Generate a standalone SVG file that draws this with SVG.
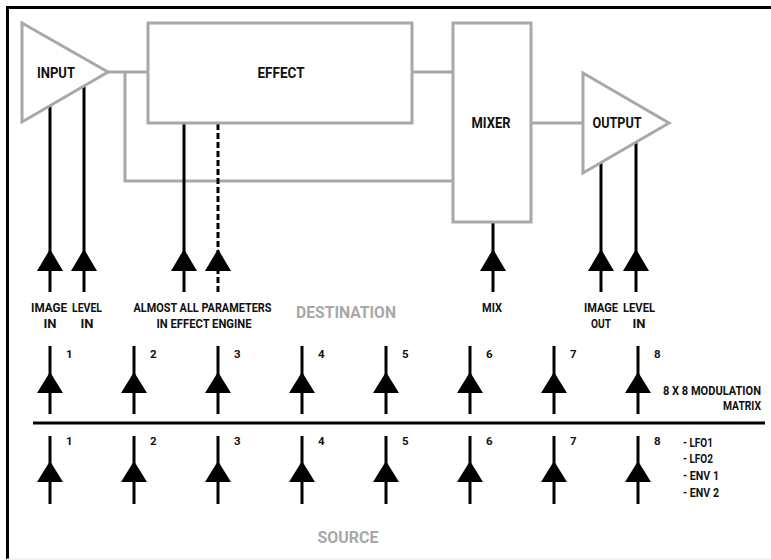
<svg xmlns="http://www.w3.org/2000/svg" xmlns:xlink="http://www.w3.org/1999/xlink" width="771" height="560" viewBox="0 0 771 560">
<style>
.blk{fill:none;stroke:#a8a8a8;stroke-width:3}
.ln{stroke:#000;stroke-width:3;fill:none}
.dash{stroke:#000;stroke-width:3;fill:none;stroke-dasharray:6 3}
text{font-family:Roboto,"DejaVu Sans",sans-serif;font-weight:bold}
.t{fill:#111;font-size:12.5px;text-anchor:middle}
.n{fill:#111;font-size:11.5px}
.big{fill:#a8a8a8;font-size:17px;text-anchor:middle}
.nm{fill:#111;font-size:14.5px;text-anchor:middle}
</style>
<defs>
<polygon id="ah" points="0,0 13,22 -13,22" fill="#000"/>
<polygon id="ah2" points="0,0 13,21 -13,21" fill="#000"/>
</defs>
<rect width="771" height="560" fill="#fff"/>
<g id="frame">
<line x1="7" y1="7.5" x2="771" y2="7.5" stroke="#000" stroke-width="3"/>
<line x1="7.5" y1="6" x2="7.5" y2="559" stroke="#000" stroke-width="3"/>
<line x1="7" y1="559" x2="771" y2="559" stroke="#e6e6e6" stroke-width="1"/>
</g>
<g id="connectors">
<path class="blk" d="M108,72 H148"/>
<path class="blk" d="M125,72 V181 H453"/>
<path class="blk" d="M412,72 H453"/>
<path class="blk" d="M531,123 H583"/>
<line class="ln" x1="50" y1="106" x2="50" y2="292"/>
<line class="ln" x1="84" y1="86" x2="84" y2="292"/>
<line class="ln" x1="184" y1="123" x2="184" y2="292"/>
<line class="dash" x1="218" y1="124" x2="218" y2="292"/>
<line class="ln" x1="493" y1="223" x2="493" y2="292"/>
<line class="ln" x1="601" y1="162" x2="601" y2="292"/>
<line class="ln" x1="636" y1="142" x2="636" y2="292"/>
<use xlink:href="#ah" x="50" y="249"/>
<use xlink:href="#ah" x="84" y="249"/>
<use xlink:href="#ah" x="184" y="249"/>
<use xlink:href="#ah" x="218" y="249"/>
<use xlink:href="#ah" x="493" y="249"/>
<use xlink:href="#ah" x="601" y="249"/>
<use xlink:href="#ah" x="636" y="249"/>
<line x1="33" y1="423" x2="765" y2="423" stroke="#000" stroke-width="3"/>
<g id="matrix-top">
<line class="ln" x1="50" y1="346" x2="50" y2="414"/>
<line class="ln" x1="134" y1="346" x2="134" y2="414"/>
<line class="ln" x1="218" y1="346" x2="218" y2="414"/>
<line class="ln" x1="302" y1="346" x2="302" y2="414"/>
<line class="ln" x1="386" y1="346" x2="386" y2="414"/>
<line class="ln" x1="470" y1="346" x2="470" y2="414"/>
<line class="ln" x1="554" y1="346" x2="554" y2="414"/>
<line class="ln" x1="638" y1="346" x2="638" y2="414"/>
<use xlink:href="#ah2" x="50" y="372"/>
<use xlink:href="#ah2" x="134" y="372"/>
<use xlink:href="#ah2" x="218" y="372"/>
<use xlink:href="#ah2" x="302" y="372"/>
<use xlink:href="#ah2" x="386" y="372"/>
<use xlink:href="#ah2" x="470" y="372"/>
<use xlink:href="#ah2" x="554" y="372"/>
<use xlink:href="#ah2" x="638" y="372"/>
</g>
<g id="matrix-bottom">
<line class="ln" x1="50" y1="436" x2="50" y2="504"/>
<line class="ln" x1="134" y1="436" x2="134" y2="504"/>
<line class="ln" x1="218" y1="436" x2="218" y2="504"/>
<line class="ln" x1="302" y1="436" x2="302" y2="504"/>
<line class="ln" x1="386" y1="436" x2="386" y2="504"/>
<line class="ln" x1="470" y1="436" x2="470" y2="504"/>
<line class="ln" x1="554" y1="436" x2="554" y2="504"/>
<line class="ln" x1="638" y1="436" x2="638" y2="504"/>
<use xlink:href="#ah2" x="50" y="461"/>
<use xlink:href="#ah2" x="134" y="461"/>
<use xlink:href="#ah2" x="218" y="461"/>
<use xlink:href="#ah2" x="302" y="461"/>
<use xlink:href="#ah2" x="386" y="461"/>
<use xlink:href="#ah2" x="470" y="461"/>
<use xlink:href="#ah2" x="554" y="461"/>
<use xlink:href="#ah2" x="638" y="461"/>
</g>
</g>
<g id="input">
<polygon class="blk" points="22,23 108,72 22,122"/>
<text class="nm" x="56" y="78" textLength="38" lengthAdjust="spacingAndGlyphs">INPUT</text>
</g>
<g id="effect">
<rect class="blk" x="148" y="23" width="264" height="100"/>
<text class="nm" x="281" y="78" textLength="47" lengthAdjust="spacingAndGlyphs">EFFECT</text>
</g>
<g id="mixer">
<rect class="blk" x="453" y="23" width="78" height="199"/>
<text class="nm" x="491" y="128" textLength="39" lengthAdjust="spacingAndGlyphs">MIXER</text>
</g>
<g id="output">
<polygon class="blk" points="583,73 669,123 583,173"/>
<text class="nm" x="617" y="128" textLength="49" lengthAdjust="spacingAndGlyphs">OUTPUT</text>
</g>
<g id="labels">
<text class="t" x="49" y="312" textLength="36" lengthAdjust="spacingAndGlyphs">IMAGE</text>
<text class="t" x="50" y="328" textLength="13" lengthAdjust="spacingAndGlyphs">IN</text>
<text class="t" x="87" y="312" textLength="30" lengthAdjust="spacingAndGlyphs">LEVEL</text>
<text class="t" x="87" y="328" textLength="13" lengthAdjust="spacingAndGlyphs">IN</text>
<text class="t" x="202.5" y="312" textLength="138" lengthAdjust="spacingAndGlyphs">ALMOST ALL PARAMETERS</text>
<text class="t" x="204" y="328" textLength="95" lengthAdjust="spacingAndGlyphs">IN EFFECT ENGINE</text>
<text class="big" x="346" y="318" textLength="100" lengthAdjust="spacingAndGlyphs">DESTINATION</text>
<text class="t" x="492" y="312" textLength="20" lengthAdjust="spacingAndGlyphs">MIX</text>
<text class="t" x="601" y="312" textLength="34" lengthAdjust="spacingAndGlyphs">IMAGE</text>
<text class="t" x="601" y="328" textLength="20" lengthAdjust="spacingAndGlyphs">OUT</text>
<text class="t" x="639" y="312" textLength="32" lengthAdjust="spacingAndGlyphs">LEVEL</text>
<text class="t" x="639" y="328" textLength="13" lengthAdjust="spacingAndGlyphs">IN</text>
<text class="n" x="66" y="358">1</text>
<text class="n" x="150" y="358">2</text>
<text class="n" x="234" y="358">3</text>
<text class="n" x="318" y="358">4</text>
<text class="n" x="402" y="358">5</text>
<text class="n" x="486" y="358">6</text>
<text class="n" x="570" y="358">7</text>
<text class="n" x="654" y="358">8</text>
<text class="n" x="66" y="445">1</text>
<text class="n" x="150" y="445">2</text>
<text class="n" x="234" y="445">3</text>
<text class="n" x="318" y="445">4</text>
<text class="n" x="402" y="445">5</text>
<text class="n" x="486" y="445">6</text>
<text class="n" x="570" y="445">7</text>
<text class="n" x="654" y="445">8</text>
<text class="t" x="663" y="395" style="text-anchor:start" textLength="98" lengthAdjust="spacingAndGlyphs">8 X 8 MODULATION</text>
<text class="t" x="723" y="410" style="text-anchor:start" textLength="38" lengthAdjust="spacingAndGlyphs">MATRIX</text>
<text class="t" x="683" y="447" style="text-anchor:start" textLength="30" lengthAdjust="spacingAndGlyphs">- LFO1</text>
<text class="t" x="683" y="463" style="text-anchor:start" textLength="30" lengthAdjust="spacingAndGlyphs">- LFO2</text>
<text class="t" x="683" y="480" style="text-anchor:start" textLength="36" lengthAdjust="spacingAndGlyphs">- ENV 1</text>
<text class="t" x="683" y="497" style="text-anchor:start" textLength="36" lengthAdjust="spacingAndGlyphs">- ENV 2</text>
<text class="big" x="348" y="543" textLength="61" lengthAdjust="spacingAndGlyphs">SOURCE</text>
</g>
</svg>
